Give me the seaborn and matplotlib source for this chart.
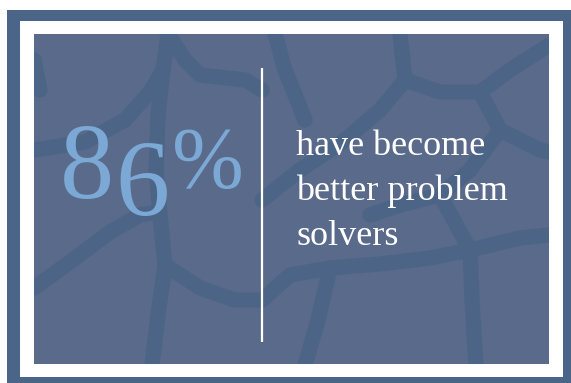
import numpy as np
import pandas as pd
import seaborn as sns
import matplotlib.pyplot as plt
from matplotlib.patches import Rectangle

# figures shown on the card
percent = 86
label_lines = ["have become", "better problem", "solvers"]

# colours
frame_col = "#4a6587"
panel_col = "#5a6a8a"
vein_col = "#4c6587"
number_col = "#7ba8d4"

sns.set_theme(style="white")
plt.rcParams['font.family'] = ['Liberation Serif', 'DejaVu Serif']

W, H = 571, 383
fig = plt.figure(figsize=(W / 100, H / 100), dpi=100)
ax = fig.add_axes([0, 0, 1, 1])
ax.set_xlim(0, W)
ax.set_ylim(H, 0)
ax.axis('off')

# frame: dark outer band, white border, panel
ax.add_patch(Rectangle((7, 10), W - 7, H - 10, color=frame_col, lw=0))
ax.add_patch(Rectangle((20, 21), 543, 356, color="white", lw=0))
panel = Rectangle((34, 34), 515, 330, color=panel_col, lw=0)
ax.add_patch(panel)

# rough giraffe-like vein pattern in the background (decoration only)
veins = [
    [(34, 150), (85, 142), (125, 120), (150, 92), (163, 70), (168, 34)],
    [(163, 70), (158, 115), (156, 170), (160, 215), (165, 265)],
    [(34, 288), (70, 262), (110, 232), (140, 215), (158, 212)],
    [(165, 265), (158, 315), (152, 365)],
    [(165, 265), (200, 288), (235, 300), (262, 300)],
    [(168, 34), (185, 60), (200, 75), (245, 80), (262, 90)],
    [(262, 300), (290, 275), (330, 268), (380, 264), (430, 258), (470, 250)],
    [(470, 250), (520, 238), (549, 235)],
    [(470, 250), (472, 300), (476, 365)],
    [(330, 268), (318, 320), (305, 365)],
    [(262, 200), (300, 170), (345, 140), (380, 110), (405, 80)],
    [(405, 80), (400, 34)],
    [(405, 80), (440, 92), (480, 92), (510, 70), (549, 45)],
    [(480, 92), (500, 130), (540, 150), (549, 152)],
    [(275, 34), (285, 70), (305, 120)],
    [(440, 195), (470, 250)],
    [(500, 130), (470, 170), (440, 195), (400, 205), (370, 215)],
    [(34, 60), (40, 90)],
]
for v in veins:
    xs, ys = zip(*v)
    ln, = ax.plot(xs, ys, color=vein_col, lw=11, solid_capstyle='round',
                  solid_joinstyle='round')
    ln.set_clip_path(panel)

# big percentage, digits staggered like the original
digits = str(percent)
ax.text(60, 198, digits[0], color=number_col, fontsize=78, ha='left', va='baseline')
ax.text(115, 215, digits[1], color=number_col, fontsize=78, ha='left', va='baseline')
ax.text(172, 187, "%", color=number_col, fontsize=62, ha='left', va='baseline')

# divider
ax.plot([262, 262], [68, 342], color="white", lw=1.6, solid_capstyle='butt')

# caption
for i, line in enumerate(label_lines):
    ax.text(296, 155 + 45 * i, line, color="white", fontsize=26,
            ha='left', va='baseline')

fig.savefig("out.png", dpi=100)
